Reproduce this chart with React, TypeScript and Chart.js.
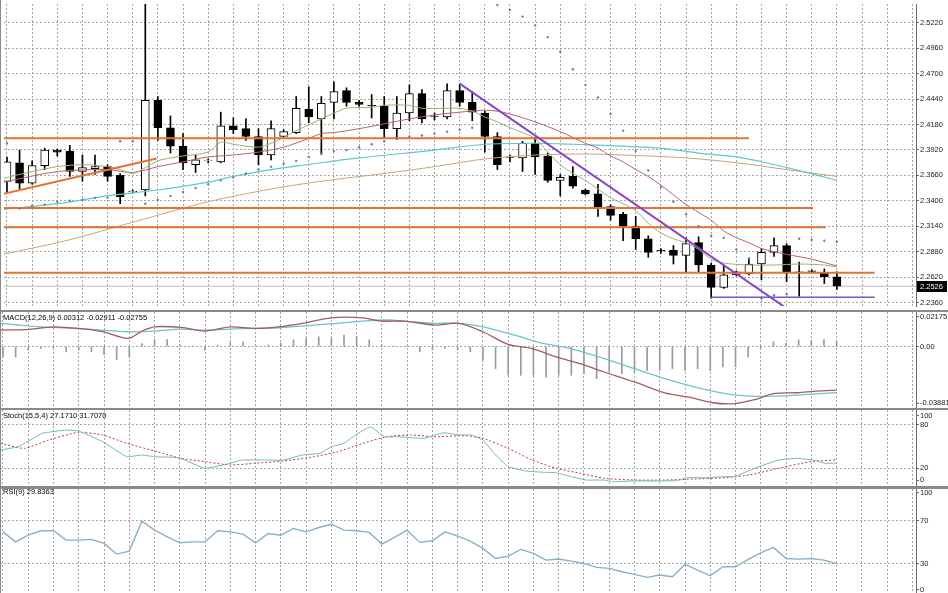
import React, { useEffect, useRef } from 'react';
import { Chart, registerables } from 'chart.js';

Chart.register(...registerables);

// ---------------- DATA ----------------
const open = [2.3599, 2.3788, 2.3579, 2.3759, 2.3918, 2.3908, 2.3699, 2.3729, 2.3749, 2.3659,
  2.3490, 2.3510, 2.4426, 2.4147, 2.3958, 2.3769, 2.3812, 2.3798, 2.4167, 2.4137,
  2.4057, 2.3868, 2.4057, 2.4097, 2.4336, 2.4237, 2.4406, 2.4526, 2.4406, 2.4376,
  2.4366, 2.4137, 2.4297, 2.4496, 2.4267, 2.4257, 2.4526, 2.4406, 2.4297, 2.4057,
  2.3848, 2.3838, 2.3988, 2.3858, 2.3609, 2.3649, 2.3510, 2.3470, 2.3340, 2.3261,
  2.3141, 2.3012, 2.2892, 2.2892, 2.2842, 2.2972, 2.2743, 2.2514, 2.2643, 2.2653,
  2.2753, 2.2872, 2.2942, 2.2673, 2.2683, 2.2663, 2.2623];
const high = [2.3848, 2.3918, 2.3808, 2.3938, 2.3928, 2.3968, 2.3868, 2.3868, 2.3769, 2.3679,
  2.3510, 2.5460, 2.4466, 2.4267, 2.4087, 2.3868, 2.3828, 2.4306, 2.4247, 2.4237,
  2.4137, 2.4217, 2.4127, 2.4466, 2.4565, 2.4466, 2.4615, 2.4555, 2.4426, 2.4486,
  2.4466, 2.4466, 2.4585, 2.4536, 2.4297, 2.4595, 2.4595, 2.4516, 2.4316, 2.4097,
  2.3868, 2.4008, 2.4048, 2.3888, 2.3669, 2.3749, 2.3520, 2.3569, 2.3360, 2.3281,
  2.3241, 2.3042, 2.2912, 2.2942, 2.3022, 2.3032, 2.2763, 2.2743, 2.2683, 2.2812,
  2.2912, 2.3022, 2.2962, 2.2773, 2.2693, 2.2703, 2.2673];
const low = [2.3490, 2.3520, 2.3569, 2.3719, 2.3858, 2.3649, 2.3599, 2.3669, 2.3599, 2.3370,
  2.3480, 2.3450, 2.4018, 2.3888, 2.3719, 2.3689, 2.3788, 2.3788, 2.4087, 2.4018,
  2.3769, 2.3818, 2.4047, 2.4087, 2.4197, 2.3878, 2.4237, 2.4366, 2.4366, 2.4247,
  2.4047, 2.4028, 2.4217, 2.4197, 2.4227, 2.4237, 2.4366, 2.4217, 2.3898, 2.3719,
  2.3798, 2.3699, 2.3669, 2.3589, 2.3450, 2.3530, 2.3460, 2.3241, 2.3201, 2.2992,
  2.2902, 2.2822, 2.2862, 2.2753, 2.2673, 2.2673, 2.2404, 2.2504, 2.2633, 2.2643,
  2.2593, 2.2832, 2.2573, 2.2424, 2.2663, 2.2554, 2.2494];
const close = [2.3798, 2.3579, 2.3759, 2.3918, 2.3898, 2.3699, 2.3739, 2.3749, 2.3649, 2.3440,
  2.3500, 2.4426, 2.4147, 2.3958, 2.3788, 2.3818, 2.3816, 2.4167, 2.4127, 2.4057,
  2.3868, 2.4137, 2.4107, 2.4346, 2.4257, 2.4396, 2.4516, 2.4406, 2.4386, 2.4372,
  2.4137, 2.4297, 2.4496, 2.4237, 2.4262, 2.4526, 2.4406, 2.4306, 2.4057, 2.3769,
  2.3843, 2.3988, 2.3848, 2.3609, 2.3639, 2.3550, 2.3470, 2.3340, 2.3251, 2.3141,
  2.3012, 2.2872, 2.2887, 2.2842, 2.2962, 2.2743, 2.2514, 2.2643, 2.2673, 2.2753,
  2.2872, 2.2942, 2.2673, 2.2663, 2.2678, 2.2623, 2.2526];

const sar = [2.3988, 2.3321, 2.3351, 2.3361, 2.3390, 2.3400, 2.3410, 2.3430, 2.3430, 2.4008,
  2.4008, 2.3370, 2.3410, 2.3450, 2.3490, 2.3530, 2.3570, 2.3609, 2.3639, 2.3679,
  2.3719, 2.3749, 2.3779, 2.3808, 2.3848, 2.3878, 2.3908, 2.3918, 2.3948, 2.3978,
  2.4008, 2.4037, 2.4057, 2.4067, 2.4087, 2.4107, 2.4127, 2.4147, 2.5470, 2.5402,
  2.5352, 2.5283, 2.5193, 2.5073, 2.4924, 2.4745, 2.4585, 2.4456, 2.4287, 2.4117,
  2.3908, 2.3709, 2.3540, 2.3390, 2.3261, 2.3141, 2.3042, 2.3022, 2.2902, 2.2812,
  2.2404, 2.2434, 2.2444, 2.3012, 2.3002, 2.2992, 2.2982];

const maFastIdx = [-0.3, 2, 4, 6, 8, 9, 10, 11, 12, 13, 14, 16, 17, 18, 20, 21, 22, 23, 24, 25, 26, 27, 29, 30, 32, 33, 35, 36, 37, 38, 39, 40, 41, 42, 43, 44, 45, 46, 47, 48, 49, 50, 51, 52, 53, 54, 55, 56, 57, 59, 61, 63, 65, 66];
const maFastVal = [2.3629, 2.3699, 2.3749, 2.3769, 2.3749, 2.3719, 2.3679, 2.3739, 2.3808, 2.3838, 2.3858, 2.3898, 2.3998, 2.3978, 2.3948, 2.3988, 2.4047, 2.4117, 2.4177, 2.4237, 2.4296, 2.4346, 2.4356, 2.4376, 2.4376, 2.4346, 2.4346, 2.4346, 2.4316, 2.4257, 2.4207, 2.4147, 2.4097, 2.4037, 2.3898, 2.3769, 2.3679, 2.3609, 2.3520, 2.3430, 2.3370, 2.3300, 2.3171, 2.3072, 2.3012, 2.2972, 2.2902, 2.2803, 2.2763, 2.2743, 2.2743, 2.2753, 2.2743, 2.2723];
const maMidIdx = [-0.3, 4, 8, 10, 12, 14, 16, 18, 20, 22, 24, 25, 26, 28, 30, 32, 34, 36, 38, 39, 40, 42, 44, 46, 47, 48, 49, 50, 51, 52, 53, 54, 55, 56, 57, 58, 59, 60, 62, 64, 66];
const maMidVal = [2.3589, 2.3699, 2.3719, 2.3689, 2.3749, 2.3798, 2.3848, 2.3868, 2.3898, 2.3948, 2.4037, 2.4087, 2.4097, 2.4137, 2.4187, 2.4237, 2.4277, 2.4306, 2.4326, 2.4316, 2.4287, 2.4207, 2.4107, 2.3988, 2.3938, 2.3858, 2.3798, 2.3719, 2.3649, 2.3560, 2.3460, 2.3361, 2.3281, 2.3201, 2.3092, 2.3022, 2.2972, 2.2912, 2.2852, 2.2803, 2.2733];
const maCyanIdx = [-0.3, 4, 8, 12, 16, 18, 21, 25, 28, 31, 34, 38, 42, 45, 49, 52, 55, 58, 60, 63, 66];
const maCyanVal = [2.3311, 2.3370, 2.3450, 2.3510, 2.3590, 2.3649, 2.3719, 2.3789, 2.3838, 2.3878, 2.3918, 2.3978, 2.3988, 2.3978, 2.3958, 2.3938, 2.3888, 2.3849, 2.3799, 2.3709, 2.3609];
const maSlowIdx = [-0.3, 5, 10, 16, 21, 25, 30, 34, 38, 42, 46, 49, 54, 58, 62, 66];
const maSlowVal = [2.2852, 2.3002, 2.3181, 2.3390, 2.3520, 2.3600, 2.3679, 2.3749, 2.3828, 2.3868, 2.3878, 2.3868, 2.3838, 2.3789, 2.3719, 2.3649];

const levelStart = [-0.3, -0.3, -0.3, -0.3];
const levelEnd = [59.0, 64.1, 65.1, 69.0];
const levelValue = [2.4040, 2.3325, 2.3128, 2.2663];
const orangeTrendIdx = [-0.3, 11.9];
const orangeTrendVal = [2.3470, 2.3832];
const purpleTrendIdx = [36.0, 62.0];
const purpleTrendVal = [2.4598, 2.2300];
const purpleFloorIdx = [56, 69.0];
const purpleFloorVal = [2.2414, 2.2414];

const macdHist = [-0.0066, -0.0066, -0.0023, -0.0013, -0.0008, -0.0034, -0.0023, -0.0034, -0.0051, -0.0082,
  -0.0066, 0.0019, 0.0044, 0.0044, 0.0013, 0.0002, -0.0023, 0.0008, 0.0025, 0.0030,
  0.0006, 0.0010, 0.0021, 0.0042, 0.0051, 0.0061, 0.0051, 0.0072, 0.0061, 0.0042,
  0.0010, 0.0003, 0.0002, -0.0034, -0.0023, -0.0013, -0.0023, -0.0034, -0.0087, -0.0140,
  -0.0182, -0.0182, -0.0182, -0.0193, -0.0182, -0.0182, -0.0172, -0.0203, -0.0161, -0.0172,
  -0.0161, -0.0151, -0.0151, -0.0140, -0.0151, -0.0140, -0.0151, -0.0129, -0.0129, -0.0066,
  -0.0010, 0.0030, 0.0021, 0.0042, 0.0036, 0.0044, 0.00312];
const macdLineIdx = [-0.2, 2.1, 4.0, 6.0, 7.9, 9.9, 11.0, 12.0, 14.1, 16.0, 18.0, 19.9, 21.8, 23.7, 26.0, 28.5, 29.9, 31.8, 34.2, 36.1, 38.0, 40.0, 41.9, 43.8, 45.7, 47.6, 50.0, 52.4, 54.3, 56.2, 57.9, 59.5, 61.0, 62.9, 64.4, 66.0];
const macdLineVal = [0.0103, 0.0108, 0.0124, 0.0114, 0.0093, 0.0051, 0.0097, 0.0124, 0.0120, 0.0097, 0.0124, 0.0114, 0.0124, 0.0146, 0.0181, 0.0181, 0.0160, 0.0160, 0.0135, 0.0146, 0.0093, 0.0013, -0.0013, -0.0066, -0.0108, -0.0161, -0.0224, -0.0292, -0.0320, -0.0355, -0.0361, -0.0336, -0.0298, -0.0292, -0.0282, -0.02755];
const macdSignalIdx = [-0.2, 2.1, 4.0, 7.0, 9.9, 12.0, 14.1, 16.0, 18.0, 19.9, 21.8, 24.6, 26.5, 28.5, 30.4, 32.3, 34.2, 36.1, 38.0, 40.5, 42.8, 44.7, 47.6, 50.0, 52.4, 54.8, 57.2, 59.1, 61.0, 63.4, 66.0];
const macdSignalVal = [0.0146, 0.0129, 0.0120, 0.0108, 0.0093, 0.0097, 0.0110, 0.0103, 0.0110, 0.0114, 0.0118, 0.0135, 0.0146, 0.0160, 0.0167, 0.0156, 0.0146, 0.0146, 0.0124, 0.0072, 0.0019, -0.0009, -0.0076, -0.0140, -0.0203, -0.0256, -0.0298, -0.0313, -0.0313, -0.0304, -0.02911];

const stochMainIdx = [-0.2, 1.2, 3.1, 5.0, 6.0, 7.9, 9.8, 11.0, 12.0, 13.9, 16.0, 18.0, 18.9, 20.8, 22.2, 23.7, 25.1, 26.0, 27.0, 27.9, 29.1, 30.2, 31.4, 33.3, 34.9, 36.1, 37.1, 38.0, 39.0, 40.0, 41.4, 42.8, 43.8, 45.0, 46.2, 47.6, 48.3, 50.0, 52.0, 53.4, 54.1, 55.7, 56.9, 57.9, 59.5, 61.4, 62.9, 64.1, 65.1, 66.0];
const stochMainVal = [45.3, 49.9, 68.4, 73.0, 71.6, 56.8, 36.0, 38.4, 36.0, 34.6, 19.9, 26.9, 31.4, 31.4, 31.4, 38.4, 40.7, 49.9, 54.6, 66.1, 77.6, 63.7, 63.7, 61.5, 69.3, 66.1, 66.1, 59.1, 38.4, 22.2, 16.2, 14.4, 13.9, 8.3, 3.7, 3.7, 1.4, 2.4, 2.4, 2.8, 6.9, 6.9, 8.3, 8.3, 19.9, 31.4, 33.8, 31.4, 26.9, 27.2];
const stochSigIdx = [-0.2, 1.7, 3.6, 6.0, 7.9, 9.8, 12.2, 14.1, 16.0, 18.0, 19.9, 22.2, 24.6, 26.5, 28.5, 30.4, 32.3, 34.2, 36.6, 38.0, 40.0, 41.9, 43.8, 45.7, 47.6, 50.0, 52.4, 54.8, 57.2, 59.1, 61.4, 63.9, 66.0];
const stochSigVal = [54.6, 47.6, 59.1, 69.8, 66.1, 54.6, 42.9, 33.8, 29.1, 24.5, 26.9, 30.1, 36.0, 42.9, 54.6, 63.7, 66.1, 63.7, 65.1, 61.5, 47.6, 31.4, 19.9, 13.0, 6.1, 3.7, 3.7, 5.1, 6.9, 10.7, 19.9, 29.1, 31.7];

const rsi = [59.7, 50.3, 56.6, 60.7, 60.7, 51.9, 51.9, 52.6, 48.8, 38.8,
  41.6, 69.8, 61.3, 55.0, 49.4, 50.3, 50.3, 60.7, 59.7, 57.6,
  49.4, 58.2, 56.6, 62.9, 59.7, 63.8, 66.9, 61.3, 60.7, 59.2,
  48.2, 54.5, 61.3, 49.8, 51.3, 59.7, 55.7, 51.0, 44.1, 34.7,
  36.9, 43.2, 39.4, 33.1, 34.1, 32.2, 30.0, 26.3, 25.4, 22.2,
  19.7, 16.9, 19.1, 17.5, 29.1, 23.8, 18.4, 26.9, 26.9, 33.8,
  40.0, 45.1, 34.7, 34.1, 34.7, 33.1, 29.8];

const mainTickLabels = ['2.5220', '2.4960', '2.4700', '2.4440', '2.4180', '2.3920', '2.3660', '2.3400', '2.3140', '2.2880', '2.2620', '2.2360'];
const macdTickLabels = ['0.02175', '0.00', '-0.03881'];
const stochTickLabels = ['100', '80', '20', '0'];
const rsiTickLabels = ['100', '70', '30', '0'];

const titleMacd = 'MACD(12,26,9) 0.00312 -0.02911 -0.02755';
const titleStoch = 'Stoch(15,5,4) 27.1710 31.7070';
const titleRsi = 'RSI(9) 29.8363';

// ---------------- STYLE / LAYOUT ----------------
const W = 948;
const AXIS_W = 32;
const X_MIN = -0.2375;
const X_MAX = 72.29;
const FONT = "'Liberation Sans', Arial, sans-serif";
const GRID = '#a6a6a6';
const AXIS = '#6a6a6a';
const TXT = '#1a1a1a';
const ORANGE = '#e4722f';
const PURPLE = '#8b44c8';
const SEP = '#8a8a8a';

const gridIdx = Array.from({ length: 37 }, (_, k) => k * 2);
const barIdx = open.map((_, i) => i);
const pts = (xs: number[], ys: number[]) => xs.map((x, i) => ({ x, y: ys[i] }));

type TickSpec = { value: number; label: string; edge?: 'top' | 'bottom' };

function xAxis() {
  return {
    type: 'linear',
    min: X_MIN,
    max: X_MAX,
    offset: false,
    grid: { color: GRID, lineWidth: 1, drawTicks: false, offset: false },
    border: { display: false, dash: [2, 2] },
    ticks: { display: false },
    afterBuildTicks: (s: any) => { s.ticks = gridIdx.map((v) => ({ value: v })); },
    afterFit: (s: any) => { s.height = 0; s.paddingLeft = 0; s.paddingRight = 0; },
  };
}

function yAxis(min: number, max: number, height: number, ticks: TickSpec[], edgeTop = 0, edgeBottom = 0) {
  const upp = (max - min) / height;
  return {
    type: 'linear',
    position: 'right',
    min,
    max,
    grid: {
      color: (c: any) => (c.tick && c.tick.edge ? 'rgba(0,0,0,0)' : GRID),
      lineWidth: 1,
      drawTicks: true,
      tickLength: 3,
      tickColor: AXIS,
      tickWidth: 1,
    },
    border: { display: true, color: AXIS, width: 1, dash: [2, 2] },
    ticks: {
      autoSkip: false,
      color: TXT,
      padding: 1,
      font: { family: FONT, size: 7.5 },
      callback: (_v: any, i: number, t: any[]) => t[i].txt,
    },
    afterBuildTicks: (s: any) => {
      s.ticks = ticks.map((t) => ({
        value: t.edge === 'top' ? max - edgeTop * upp : t.edge === 'bottom' ? min + edgeBottom * upp : t.value,
        txt: t.label,
        edge: !!t.edge,
      }));
    },
    afterFit: (s: any) => { s.width = AXIS_W; s.paddingTop = 0; s.paddingBottom = 0; },
  };
}

function baseOptions(y: any) {
  return {
    responsive: false,
    maintainAspectRatio: false,
    animation: false,
    devicePixelRatio: 1,
    events: [],
    layout: { padding: 0 },
    plugins: { legend: { display: false }, tooltip: { enabled: false }, title: { display: false } },
    scales: { x: xAxis(), y },
  };
}

const lineDs = (data: any[], color: string, width: number, order: number, extra: any = {}) => ({
  type: 'line',
  data,
  borderColor: color,
  borderWidth: width,
  pointRadius: 0,
  tension: 0,
  fill: false,
  order,
  ...extra,
});

const priceTag = {
  id: 'priceTag',
  afterDraw(chart: any) {
    const last = close[close.length - 1];
    const y = chart.scales.y.getPixelForValue(last);
    const x = chart.chartArea.right + 1;
    const ctx = chart.ctx;
    ctx.save();
    ctx.fillStyle = '#000';
    ctx.fillRect(x, Math.round(y) - 5, 30, 11);
    ctx.fillStyle = '#fff';
    ctx.font = `7.5px ${FONT}`;
    ctx.textBaseline = 'middle';
    ctx.fillText(last.toFixed(4), x + 3, Math.round(y) + 0.5);
    ctx.restore();
  },
};

function mainConfig() {
  const H = 310;
  const yMax = 2.5412;
  const yMin = 2.2324;
  const ticks = mainTickLabels.map((l) => ({ value: parseFloat(l), label: l }));
  const last = close[close.length - 1];
  const datasets: any[] = [
    lineDs([{ x: X_MIN, y: last }, { x: X_MAX, y: last }], '#bdbdbd', 1, 30),
    {
      type: 'bar',
      data: barIdx.map((i) => ({ x: i, y: [low[i], high[i]] })),
      backgroundColor: '#000',
      borderWidth: 0,
      barThickness: 1,
      grouped: false,
      order: 21,
    },
    {
      type: 'bar',
      data: barIdx.map((i) => ({ x: i, y: [open[i], close[i]] })),
      backgroundColor: barIdx.map((i) => (close[i] >= open[i] ? '#fff' : '#000')),
      borderColor: '#000',
      borderWidth: 1,
      borderSkipped: false,
      barThickness: 8,
      grouped: false,
      order: 20,
    },
    lineDs(pts(maSlowIdx, maSlowVal), '#c8a47c', 1, 9, { tension: 0.3 }),
    lineDs(pts(maCyanIdx, maCyanVal), '#5ec8cc', 1.2, 8, { tension: 0.3 }),
    lineDs(pts(maMidIdx, maMidVal), '#b3636a', 1, 7, { tension: 0.3 }),
    lineDs(pts(maFastIdx, maFastVal), '#9bb07a', 1, 6, { tension: 0.3 }),
    ...levelValue.map((v, k) => lineDs([{ x: levelStart[k], y: v }, { x: levelEnd[k], y: v }], ORANGE, 2, 5)),
    lineDs(pts(orangeTrendIdx, orangeTrendVal), ORANGE, 2, 5),
    {
      type: 'line',
      data: barIdx.map((i) => ({ x: i, y: sar[i] })),
      showLine: false,
      pointRadius: 1.2,
      pointBorderWidth: 0,
      pointBackgroundColor: '#6e7ea6',
      order: 4,
    },
    lineDs(pts(purpleTrendIdx, purpleTrendVal), PURPLE, 2, 3),
    lineDs(pts(purpleFloorIdx, purpleFloorVal), '#7d55cf', 1.5, 3),
  ];
  return {
    type: 'line',
    data: { datasets },
    options: baseOptions(yAxis(yMin, yMax, H, ticks)),
    plugins: [priceTag],
  };
}

function macdConfig() {
  const H = 96;
  const ticks: TickSpec[] = [
    { value: parseFloat(macdTickLabels[0]), label: macdTickLabels[0], edge: 'top' },
    { value: parseFloat(macdTickLabels[1]), label: macdTickLabels[1] },
    { value: parseFloat(macdTickLabels[2]), label: macdTickLabels[2], edge: 'bottom' },
  ];
  const datasets: any[] = [
    {
      type: 'bar',
      data: barIdx.map((i) => ({ x: i, y: macdHist[i] })),
      backgroundColor: '#9a9a9a',
      borderWidth: 0,
      barThickness: 1,
      grouped: false,
      order: 10,
    },
    lineDs(pts(macdSignalIdx, macdSignalVal), '#6cc4cc', 1.3, 3, { tension: 0.3 }),
    lineDs(pts(macdLineIdx, macdLineVal), '#a85a5e', 1.3, 2, { tension: 0.3 }),
  ];
  return { type: 'line', data: { datasets }, options: baseOptions(yAxis(-0.03881, 0.02175, H, ticks, 4.5, 5)) };
}

function stochConfig() {
  const H = 76;
  const ticks: TickSpec[] = [
    { value: 100, label: stochTickLabels[0], edge: 'top' },
    { value: 80, label: stochTickLabels[1] },
    { value: 20, label: stochTickLabels[2] },
    { value: 0, label: stochTickLabels[3], edge: 'bottom' },
  ];
  const datasets: any[] = [
    lineDs(pts(stochSigIdx, stochSigVal), '#b83c3c', 1, 3, { tension: 0.2, borderDash: [2, 2] }),
    lineDs(pts(stochMainIdx, stochMainVal), '#70b8bc', 1, 2, { tension: 0.1 }),
  ];
  return { type: 'line', data: { datasets }, options: baseOptions(yAxis(-4.6, 100.8, H, ticks, 5.5, 6)) };
}

function rsiConfig() {
  const H = 104;
  const ticks: TickSpec[] = [
    { value: 100, label: rsiTickLabels[0], edge: 'top' },
    { value: 70, label: rsiTickLabels[1] },
    { value: 30, label: rsiTickLabels[2] },
    { value: 0, label: rsiTickLabels[3], edge: 'bottom' },
  ];
  const datasets: any[] = [lineDs(barIdx.map((i) => ({ x: i, y: rsi[i] })), '#8ab0c6', 1.4, 2)];
  return { type: 'line', data: { datasets }, options: baseOptions(yAxis(2.2, 100, H, ticks, 3.5, 3.5)) };
}

const titleStyle = (top: number): React.CSSProperties => ({
  position: 'absolute',
  left: 3,
  top,
  fontFamily: FONT,
  fontSize: '7.5px',
  lineHeight: '10px',
  color: '#000',
  whiteSpace: 'pre',
});

const sepStyle = (top: number, h: number): React.CSSProperties => ({
  position: 'absolute',
  left: 0,
  top,
  width: W,
  height: h,
  background: SEP,
});

export default function App() {
  const mainRef = useRef<HTMLCanvasElement>(null);
  const macdRef = useRef<HTMLCanvasElement>(null);
  const stochRef = useRef<HTMLCanvasElement>(null);
  const rsiRef = useRef<HTMLCanvasElement>(null);

  useEffect(() => {
    const charts = [
      new Chart(mainRef.current as any, mainConfig() as any),
      new Chart(macdRef.current as any, macdConfig() as any),
      new Chart(stochRef.current as any, stochConfig() as any),
      new Chart(rsiRef.current as any, rsiConfig() as any),
    ];
    return () => charts.forEach((c) => c.destroy());
  }, []);

  const cv = (top: number, h: number): React.CSSProperties => ({ position: 'absolute', left: 0, top, width: W, height: h });

  return (
    <div style={{ position: 'fixed', left: 0, top: 0, width: W, height: 593, background: '#fff', overflow: 'hidden' }}>
      <canvas ref={mainRef} width={W} height={310} style={cv(0, 310)} />
      <div style={sepStyle(310, 2)} />
      <canvas ref={macdRef} width={W} height={96} style={cv(312, 96)} />
      <div style={sepStyle(408, 2)} />
      <canvas ref={stochRef} width={W} height={76} style={cv(410, 76)} />
      <div style={sepStyle(486, 3)} />
      <canvas ref={rsiRef} width={W} height={104} style={cv(489, 104)} />
      <div style={{ position: 'absolute', left: 0, top: 0, width: 1, height: 593, background: SEP }} />
      <div style={titleStyle(313)}>{titleMacd}</div>
      <div style={titleStyle(411)}>{titleStoch}</div>
      <div style={titleStyle(487)}>{titleRsi}</div>
    </div>
  );
}
